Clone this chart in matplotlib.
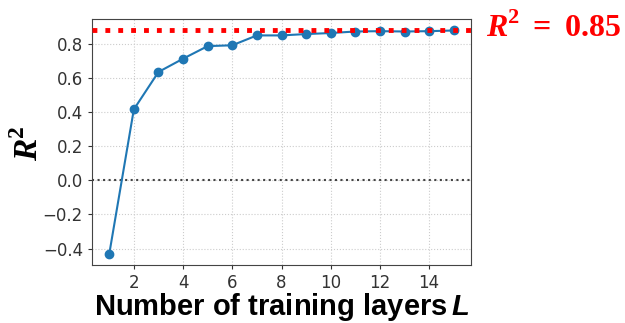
import numpy as np
import matplotlib
matplotlib.use('Agg')
import matplotlib.pyplot as plt

plt.rcParams['mathtext.fontset'] = 'custom'
plt.rcParams['mathtext.rm'] = 'Liberation Serif:bold'
plt.rcParams['mathtext.bf'] = 'Liberation Serif:bold'
plt.rcParams['mathtext.bfit'] = 'Liberation Serif:bold:italic'
plt.rcParams['mathtext.sf'] = 'Liberation Sans:bold:italic'

# data
layers = [1, 2, 3, 4, 5, 6, 7, 8, 9, 10, 11, 12, 13, 14, 15]
r2 = [-0.433, 0.418, 0.638, 0.716, 0.790, 0.795, 0.853, 0.853, 0.861, 0.867,
      0.876, 0.878, 0.876, 0.878, 0.882]
r2_ref = 0.885
ref_label = r'$\mathbfit{R}^{\mathbf{2}}\:=\:\mathbf{0.85}$'

fig = plt.figure(figsize=(6.25, 3.23), dpi=100)
ax = fig.add_axes([92/625, 1-265.3/323, (471-92)/625, (265.3-19.3)/323])

ax.plot(layers, r2, '-o', color='#1f77b4', lw=1.5, ms=6, zorder=3)
ax.axhline(0.0, color='#444444', ls=':', lw=1.5, zorder=2)
ax.axhline(r2_ref, color='red', ls=':', lw=3.5, zorder=4)

ax.grid(True, ls=':', color='#cccccc', lw=0.8)
ax.set_xticks([2, 4, 6, 8, 10, 12, 14])
ax.set_yticks([-0.4, -0.2, 0.0, 0.2, 0.4, 0.6, 0.8])
ax.tick_params(labelsize=12, colors='#333333', length=3)
for s in ax.spines.values():
    s.set_color('#444444')

ax.set_xlabel(r'Number of training layers$\,\mathsf{L}$', fontsize=21,
              fontweight='bold', family='Liberation Sans', labelpad=-1)
fig.text(29/625, 1-143/323, r'$\mathbfit{R}^{\mathbf{2}}$', fontsize=24,
         rotation=90, ha='center', va='center')

fig.text(486/625, 1-28/323, ref_label, color='red', fontsize=23, va='center', ha='left')

fig.savefig('out.png', dpi=100)
